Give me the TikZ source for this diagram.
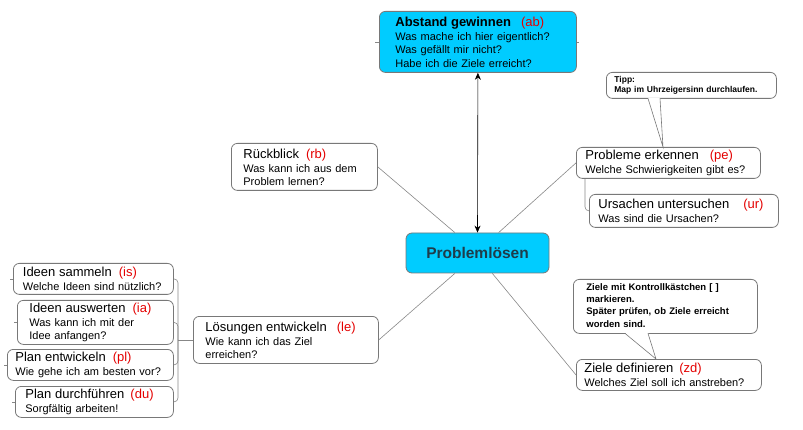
\documentclass[tikz,border=0pt]{standalone}
\usepackage{fontspec}
\setmainfont{Liberation Sans}
\usetikzlibrary{arrows.meta}
\definecolor{topicblue}{RGB}{0,204,255}
\definecolor{framegray}{RGB}{120,120,120}
\definecolor{linegray}{RGB}{135,135,135}
\definecolor{abbrred}{RGB}{228,0,0}
\definecolor{centertext}{RGB}{30,60,75}
\newcommand\hd[3]{{\fontsize{13}{15}\selectfont #1\hspace{#3pt}\textcolor{abbrred}{(#2)}}\\[1pt]}

\begin{document}
\begin{tikzpicture}[x=1pt,y=-1pt,
  topic/.style={draw=framegray,line width=0.8pt,rounded corners=6pt,fill=white,anchor=north west,align=left,inner ysep=2pt,font=\fontsize{11}{13}\selectfont},
  main/.style={topic,fill=topicblue},
  tip/.style={topic,font=\bfseries\fontsize{8.5}{10}\selectfont},
  link/.style={draw=linegray,line width=0.6pt}]
  \useasboundingbox (0,0) rectangle (803,430);
  \node[main,text width=165pt,inner xsep=16pt,minimum height=61pt,font=\fontsize{11}{13.3}\selectfont] (ab) at (379,11) {\hd{\textbf{Abstand gewinnen}}{ab}{10}Was mache ich hier eigentlich?\\Was gefällt mir nicht?\\Habe ich die Ziele erreicht?};
  \node[main,anchor=center,minimum width=143pt,minimum height=40pt,font=\bfseries\fontsize{15.5}{18}\selectfont,text=centertext] (prob) at (477.5,253) {Problemlösen};
  \node[topic,text width=122pt,inner xsep=12pt,minimum height=47pt] (rb) at (231,143) {\hd{Rückblick}{rb}{7}Was kann ich aus dem\\Problem lernen?};
  \node[topic,text width=166pt,inner xsep=9pt,minimum height=31pt] (pe) at (576,147) {\hd{Probleme erkennen}{pe}{11}Welche Schwierigkeiten gibt es?};
  \node[topic,text width=171pt,inner xsep=9pt,minimum height=33pt] (ur) at (589,194) {\hd{Ursachen untersuchen}{ur}{14}Was sind die Ursachen?};
  \node[topic,text width=169pt,inner xsep=8pt,minimum height=31pt] (zd) at (576,359) {\hd{Ziele definieren}{zd}{6}Welches Ziel soll ich anstreben?};
  \node[topic,text width=161pt,inner xsep=12pt,minimum height=47pt] (le) at (193,316) {\hd{Lösungen entwickeln}{le}{10}Wie kann ich das Ziel\\erreichen?};
  \node[topic,text width=141pt,inner xsep=9.5pt,minimum height=31pt] (is) at (13,263) {\hd{Ideen sammeln}{is}{7}Welche Ideen sind nützlich?};
  \node[topic,text width=132pt,inner xsep=12pt,minimum height=44pt] (ia) at (17,300) {\hd{Ideen auswerten}{ia}{7}Was kann ich mit der\\Idee anfangen?};
  \node[topic,text width=150pt,inner xsep=8pt,minimum height=31pt] (pl) at (7,349) {\hd{Plan entwickeln}{pl}{7}Wie gehe ich am besten vor?};
  \node[topic,text width=138pt,inner xsep=10pt,minimum height=31pt] (du) at (15,386) {\hd{Plan durchführen}{du}{6}Sorgfältig arbeiten!};
  \node[tip,text width=154pt,inner xsep=8pt,minimum height=26pt] (tipA) at (606,72) {Tipp:\\Map im Uhrzeigersinn durchlaufen.};
  \node[tip,text width=158pt,inner xsep=13pt,minimum height=54pt,font=\bfseries\fontsize{9.5}{12.5}\selectfont] (tipB) at (573,279) {\renewcommand\arraystretch{0.98}\begin{tabular}{@{}l@{}}Ziele mit Kontrollkästchen [ ]\\markieren.\\Später prüfen, ob Ziele erreicht\\worden sind.\end{tabular}};
  \coordinate (tipAend) at ([xshift=87pt]pe.north west); \coordinate (tipBend) at ([xshift=80pt]zd.north west);
  \fill[white] ([xshift=42pt,yshift=1pt]tipA.south west) -- (tipAend) -- ([xshift=54pt,yshift=1pt]tipA.south west) -- cycle;
  \draw[link,draw=framegray] ([xshift=42pt,yshift=0.4pt]tipA.south west) -- (tipAend) -- ([xshift=54pt,yshift=0.4pt]tipA.south west);
  \fill[white] ([xshift=52pt,yshift=1pt]tipB.south west) -- (tipBend) -- ([xshift=75pt,yshift=1pt]tipB.south west) -- cycle;
  \draw[link,draw=framegray] ([xshift=52pt,yshift=0.4pt]tipB.south west) -- (tipBend) -- ([xshift=75pt,yshift=0.4pt]tipB.south west);
  \draw[{Stealth[length=7pt,width=6pt]}-{Stealth[length=7pt,width=6pt]},line width=0.6pt] (ab.south) -- (prob.north);
  \draw[link] (rb.east) -- (prob.138); \draw[link] (pe.west) -- (prob.44); \draw[link] (le.east) -- (prob.222); \draw[link] (zd.west) -- (prob.306);
  \draw[link,rounded corners=4pt] ([xshift=9pt]pe.south west) |- (ur.west);
  \draw[link] (le.west) -- ++(-15,0) coordinate (trunk);
  \foreach \k in {is,ia,pl,du} {\draw[link,rounded corners=4pt] (trunk) |- (\k.east); \draw[link] (\k.west) -- ++(-3,0);}
  \draw[link] (ab.west) -- ++(-4,0); \draw[link] (ab.east) -- ++(2,0);
\end{tikzpicture}
\end{document}
